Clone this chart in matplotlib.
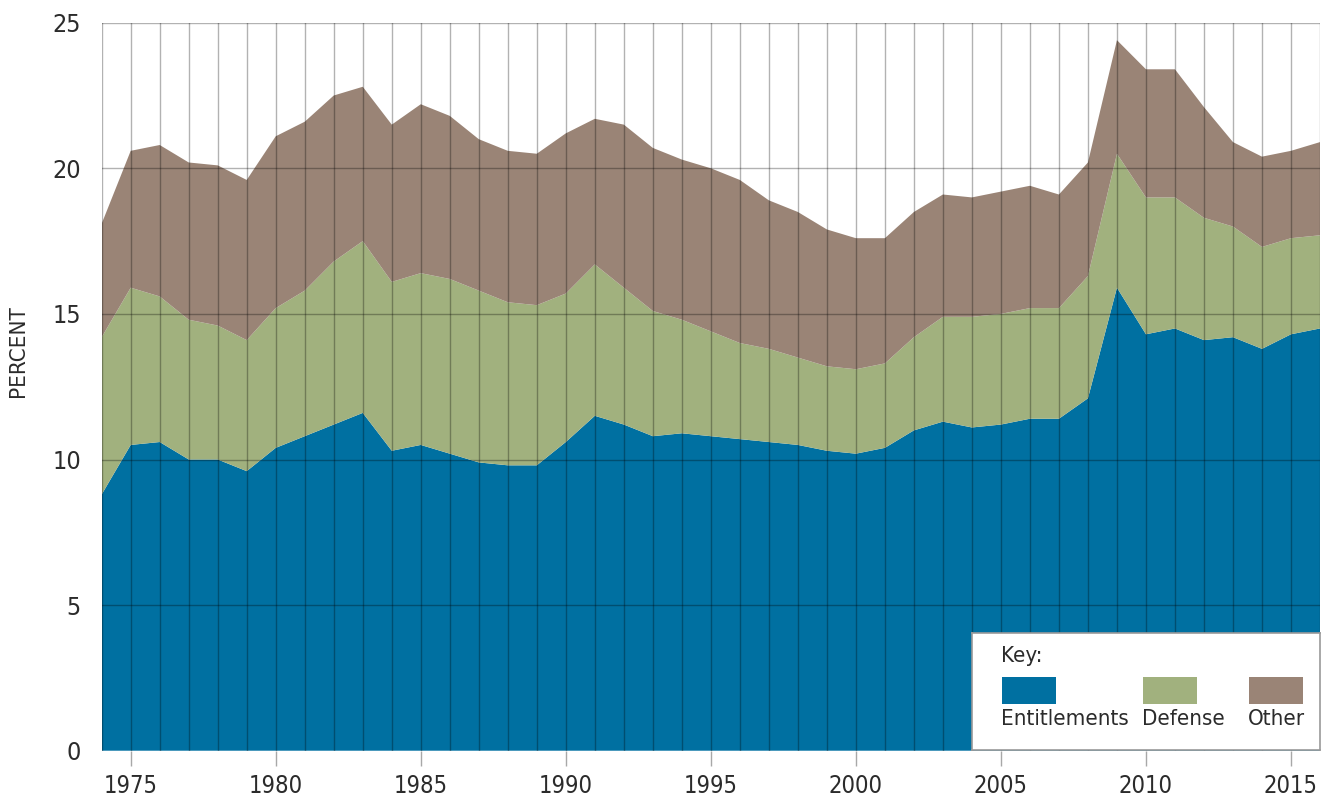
import matplotlib
matplotlib.use("Agg")
import matplotlib.pyplot as plt
from matplotlib import font_manager
from matplotlib.patches import Rectangle
import numpy as np

years = list(range(1974, 2017))
entitlements = [8.8, 10.5, 10.6, 10.0, 10.0, 9.6, 10.4, 10.8, 11.2, 11.6,
                10.3, 10.5, 10.2, 9.9, 9.8, 9.8, 10.6, 11.5, 11.2, 10.8,
                10.9, 10.8, 10.7, 10.6, 10.5, 10.3, 10.2, 10.4, 11.0, 11.3,
                11.1, 11.2, 11.4, 11.4, 12.1, 15.9, 14.3, 14.5, 14.1, 14.2,
                13.8, 14.3, 14.5]
defense = [5.4, 5.4, 5.0, 4.8, 4.6, 4.5, 4.8, 5.0, 5.6, 5.9,
           5.8, 5.9, 6.0, 5.9, 5.6, 5.5, 5.1, 5.2, 4.7, 4.3,
           3.9, 3.6, 3.3, 3.2, 3.0, 2.9, 2.9, 2.9, 3.2, 3.6,
           3.8, 3.8, 3.8, 3.8, 4.2, 4.6, 4.7, 4.5, 4.2, 3.8,
           3.5, 3.3, 3.2]
other = [3.9, 4.7, 5.2, 5.4, 5.5, 5.5, 5.9, 5.8, 5.7, 5.3,
         5.4, 5.8, 5.6, 5.2, 5.2, 5.2, 5.5, 5.0, 5.6, 5.6,
         5.5, 5.6, 5.6, 5.1, 5.0, 4.7, 4.5, 4.3, 4.3, 4.2,
         4.1, 4.2, 4.2, 3.9, 3.9, 3.9, 4.4, 4.4, 3.8, 2.9,
         3.1, 3.0, 3.2]
series_names = ["Entitlements", "Defense", "Other"]
colors = ["#0070a1", "#a1b17e", "#9a8476"]
y_ticks = [0, 5, 10, 15, 20, 25]
x_ticks = [1975, 1980, 1985, 1990, 1995, 2000, 2005, 2010, 2015]
y_label = "PERCENT"
key_title = "Key:"

# pick a condensed sans font if one is installed, else Liberation Sans
fam = "Liberation Sans"
stretch = "normal"
for f in font_manager.fontManager.ttflist:
    if f.style != "normal" or f.weight not in (400, "normal", "regular"):
        continue
    if ("Narrow" in f.name or "Condensed" in f.name or
            f.stretch in ("condensed", "semi-condensed")):
        if "Serif" in f.name or "Mono" in f.name:
            continue
        fam = f.name
        stretch = f.stretch
        break
plt.rcParams["font.family"] = [fam, "DejaVu Sans"]
plt.rcParams["font.stretch"] = stretch
txt_color = "#2b2b2b"
condensed = fam != "Liberation Sans"
tick_fs = 17 if condensed else 16

fig = plt.figure(figsize=(13.29, 7.99), dpi=100)
ax = fig.add_axes([101.7 / 1329, 1 - 750.7 / 799, (1320 - 101.7) / 1329, (750.7 - 22.7) / 799])

ax.stackplot(years, entitlements, defense, other, colors=colors, linewidth=0, zorder=1)

ax.set_xlim(1974, 2016)
ax.set_ylim(0, 25)
for yr in years:
    ax.axvline(yr, color="black", alpha=0.3, lw=1.0, zorder=3)
for yv in y_ticks[1:]:
    ax.axhline(yv, color="black", alpha=0.3, lw=1.0, zorder=3)

for s in ax.spines.values():
    s.set_visible(False)

ax.set_yticks(y_ticks)
ax.set_yticklabels([str(v) for v in y_ticks], fontsize=tick_fs + 1, color=txt_color)
ax.tick_params(axis="y", length=0, pad=15)
ax.set_xticks(x_ticks)
ax.set_xticklabels([str(v) for v in x_ticks], fontsize=tick_fs, color=txt_color)
ax.tick_params(axis="x", length=11, width=1, color="#a8a8a8", pad=6)
ax.set_ylabel(y_label, fontsize=16, color=txt_color, va="center", ha="center")
ax.yaxis.set_label_coords(-0.0687, 0.549)

# Key box
W, H = 1329, 799
bx0, by0, bx1, by1 = 972, 633, 1320, 750
kax = fig.add_axes([bx0 / W, 1 - by1 / H, (bx1 - bx0) / W, (by1 - by0) / H], zorder=5)
kax.set_xlim(0, bx1 - bx0)
kax.set_ylim(by1 - by0, 0)
kax.set_xticks([])
kax.set_yticks([])
kax.set_facecolor("white")
for s in kax.spines.values():
    s.set_color("#9a9a9a")
    s.set_linewidth(1.2)
kax.text(29, 23, key_title, fontsize=16, color=txt_color, va="center", ha="left")
sw_x = [30, 171, 277]
for name, col, x0 in zip(series_names, colors, sw_x):
    kax.add_patch(Rectangle((x0, 44), 54, 27, facecolor=col, edgecolor="none"))
    kax.text(x0 - 1, 86, name, fontsize=16, color=txt_color, va="center", ha="left")

fig.savefig("out.png", dpi=100)
